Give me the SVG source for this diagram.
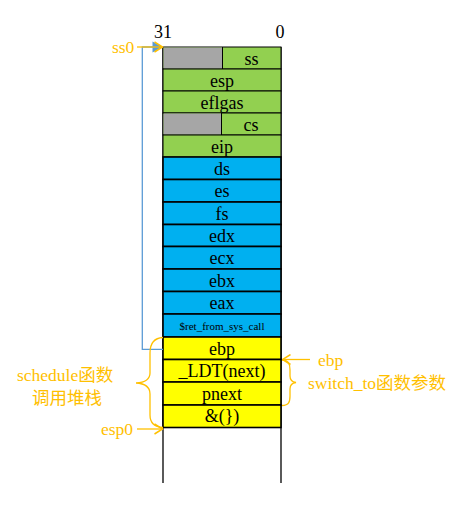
<svg xmlns="http://www.w3.org/2000/svg" width="454" height="518" viewBox="0 0 454 518">
<defs>
<style>
.t{font-family:"Liberation Serif","Noto Sans CJK SC",serif;font-size:18px;fill:#000;text-anchor:middle}
.s{font-size:11px}
.o{font-family:"Liberation Serif","Noto Sans CJK SC",serif;font-size:17.5px;fill:#FFC000}
.g{fill:#92D050;stroke:#000;stroke-width:1}
.b{fill:#00B0F0;stroke:#000;stroke-width:1.6}
.y{fill:#FFFF00;stroke:#000;stroke-width:1.6}
.gr{fill:#A6A6A6;stroke:none}
.ol{fill:none;stroke:#FFC000;stroke-width:1.3}
</style>
<marker id="chev" viewBox="0 0 10 12" refX="9" refY="6" markerWidth="10" markerHeight="12" markerUnits="userSpaceOnUse" orient="auto">
<path d="M1,1 L9,6 L1,11" fill="none" stroke="#FFC000" stroke-width="1.5"/>
</marker>
</defs>
<rect width="454" height="518" fill="#fff"/>
<text class="t" x="163" y="38" font-size="16">31</text>
<text class="t" x="280" y="38" font-size="16">0</text>
<g id="column">
<line x1="163" y1="47" x2="163" y2="483" stroke="#000" stroke-width="1.3"/>
<line x1="281" y1="47" x2="281" y2="483" stroke="#000" stroke-width="1.3"/>
</g>
<g id="row-ss"><rect class="g" x="163" y="47" width="118" height="22"/><rect class="gr" x="163.5" y="47.5" width="59" height="21"/><line x1="222.5" y1="47" x2="222.5" y2="69" stroke="#000"/><text class="t" x="251.5" y="64.5">ss</text></g>
<g id="row-esp"><rect class="g" x="163" y="69" width="118" height="22"/><text class="t" x="222" y="86.5">esp</text></g>
<g id="row-eflgas"><rect class="g" x="163" y="91" width="118" height="22"/><text class="t" x="222" y="108.5">eflgas</text></g>
<g id="row-cs"><rect class="g" x="163" y="113" width="118" height="22"/><rect class="gr" x="163.5" y="113.5" width="58" height="21"/><line x1="221.5" y1="113" x2="221.5" y2="135" stroke="#000"/><text class="t" x="251" y="130.5">cs</text></g>
<g id="row-eip"><rect class="g" x="163" y="135" width="118" height="22"/><text class="t" x="222" y="152.5">eip</text></g>
<g id="row-ds"><rect class="b" x="163" y="157" width="118" height="22.5"/><text class="t" x="222" y="174.5">ds</text></g>
<g id="row-es"><rect class="b" x="163" y="179.5" width="118" height="22.5"/><text class="t" x="222" y="197">es</text></g>
<g id="row-fs"><rect class="b" x="163" y="202" width="118" height="22.5"/><text class="t" x="222" y="219.5">fs</text></g>
<g id="row-edx"><rect class="b" x="163" y="224.5" width="118" height="22"/><text class="t" x="222" y="242">edx</text></g>
<g id="row-ecx"><rect class="b" x="163" y="246.5" width="118" height="22.5"/><text class="t" x="222" y="264">ecx</text></g>
<g id="row-ebx"><rect class="b" x="163" y="269" width="118" height="22.5"/><text class="t" x="222" y="286.5">ebx</text></g>
<g id="row-eax"><rect class="b" x="163" y="291.5" width="118" height="22.5"/><text class="t" x="222" y="309">eax</text></g>
<g id="row-ret"><rect class="b" x="163" y="314" width="118" height="23"/><text class="t s" x="222" y="329.5">$ret_from_sys_call</text></g>
<g id="row-ebp"><rect class="y" x="163" y="337" width="118" height="22.5"/><text class="t" x="222" y="354.5">ebp</text></g>
<g id="row-ldt"><rect class="y" x="163" y="359.5" width="118" height="22.5"/><text class="t" x="222" y="377">_LDT(next)</text></g>
<g id="row-pnext"><rect class="y" x="163" y="382" width="118" height="23"/><text class="t" x="222" y="399.5">pnext</text></g>
<g id="row-amp"><rect class="y" x="163" y="405" width="118" height="22.5"/><text class="t" x="222" y="422">&amp;(})</text></g>
<g id="connectors">
<path d="M163,349.3 H142.3 V47 H153" fill="none" stroke="#5B9BD5" stroke-width="1.3"/>
<polygon points="152.5,41.5 163,47 152.5,52.5" fill="#5B9BD5"/>
<line x1="137" y1="47" x2="162.5" y2="47" class="ol" marker-end="url(#chev)"/>
<line x1="137" y1="429" x2="162.5" y2="429" class="ol" marker-end="url(#chev)"/>
<line x1="310" y1="359.5" x2="282.5" y2="359.5" class="ol" marker-end="url(#chev)"/>
<path class="ol" d="M163,337.5 C153,338 150,344 150,353 L150,373 C150,379 145,382.5 136,383 C145,383.5 150,387 150,394 L150,415 C150,423 155,427 163,427.5"/>
<path class="ol" d="M282,360 C289,360.5 290,364 290,370 L290,376 C290,380 292,382 296,382.5 C292,383 290,385 290,389 L290,396 C290,402 289,405 282,405.5"/>
</g>
<g id="labels">
<text class="o" x="112" y="52.5">ss0</text>
<text class="o" x="101" y="435">esp0</text>
<text class="o" x="318" y="365.5">ebp</text>
<text class="o" x="308" y="388.5">switch_to函数参数</text>
<text class="o" x="17" y="381">schedule函数</text>
<text class="o" x="32" y="404">调用堆栈</text>
</g>
</svg>
